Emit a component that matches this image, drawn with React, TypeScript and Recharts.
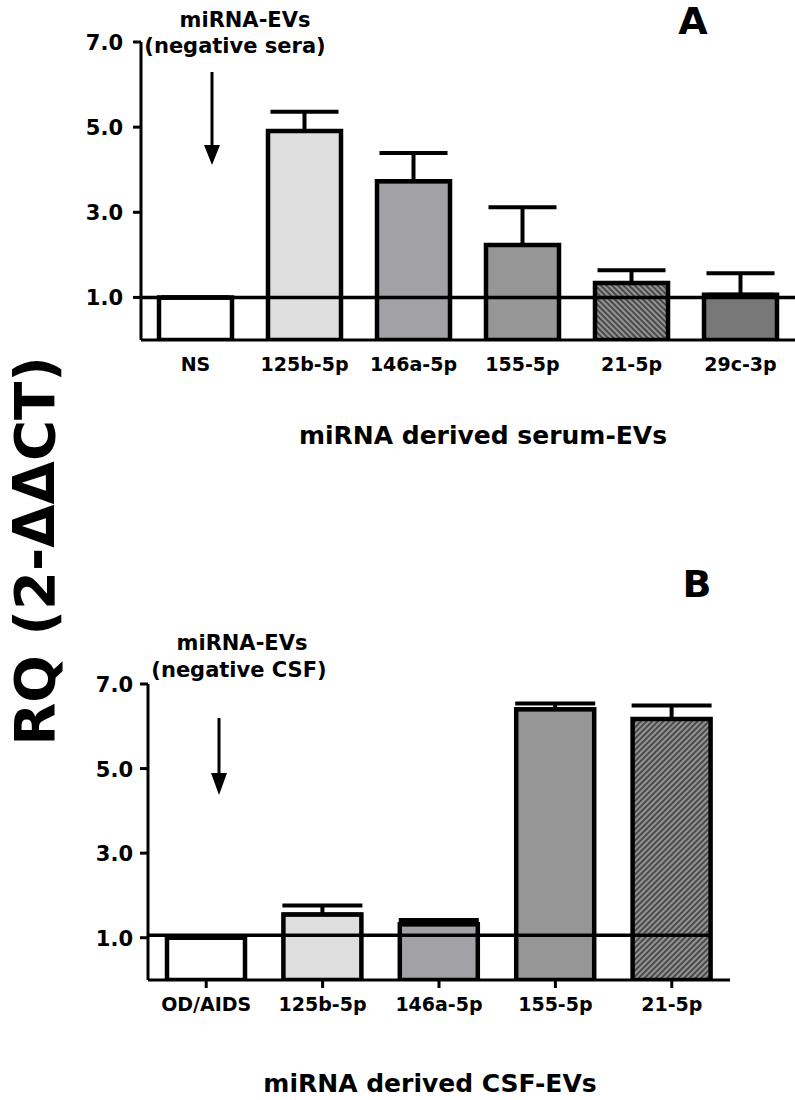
import React from 'react';
import { BarChart, Bar, XAxis, YAxis, ReferenceLine, ErrorBar, Cell } from 'recharts';

// ---- Data ----
const catsA = ['NS', '125b-5p', '146a-5p', '155-5p', '21-5p', '29c-3p'];
const meansA = [1.0, 4.91, 3.73, 2.23, 1.34, 1.06];
const errsA = [0, 0.45, 0.66, 0.89, 0.3, 0.51];

const catsB = ['OD/AIDS', '125b-5p', '146a-5p', '155-5p', '21-5p'];
const meansB = [1.0, 1.55, 1.32, 6.4, 6.17];
const errsB = [0, 0.21, 0.1, 0.14, 0.32];

const yTicks = [1, 3, 5, 7];
const refA = 1.0;
const refB = 1.06;

// ---- Styles ----
const fillsA = ['#ffffff', '#dedede', '#a2a2a6', '#969696', 'url(#hatchA)', '#787878'];
const fillsB = ['#ffffff', '#dedede', '#a2a2a6', '#969696', 'url(#hatchB)'];
const FONT = 'DejaVu Sans';

const dataA = catsA.map((c, i) => ({ cat: c, value: meansA[i], err: [0, errsA[i]] }));
const dataB = catsB.map((c, i) => ({ cat: c, value: meansB[i], err: [0, errsB[i]] }));

const YTick = (props: any) => {
  const { x, y, payload } = props;
  return (
    <text x={x} y={y + 8} textAnchor="end" fontFamily={FONT} fontWeight="bold" fontSize={21} fill="#000">
      {Number(payload.value).toFixed(1)}
    </text>
  );
};

const XTick = (props: any) => {
  const { x, y, payload } = props;
  return (
    <text x={x} y={y + 23} textAnchor="middle" fontFamily={FONT} fontWeight="bold" fontSize={19} fill="#000">
      {payload.value}
    </text>
  );
};

const ShortRef = (props: any) => {
  const { x1, y1, x2, y2 } = props;
  return <line x1={x1} y1={y1} x2={x2 - 18} y2={y2} stroke="#000" strokeWidth={3.5} />;
};

const textStyle = { fontFamily: FONT, fontWeight: 'bold' as const, fill: '#000' };

export default function App() {
  return (
    <div style={{ position: 'absolute', left: 0, top: 0, width: 795, height: 1100, background: '#fff', overflow: 'hidden' }}>
      <svg width={0} height={0} style={{ position: 'absolute' }}>
        <defs>
          <pattern id="hatchA" width="4" height="4" patternUnits="userSpaceOnUse" patternTransform="rotate(-45)">
            <rect width="4" height="4" fill="#4a4a4a" />
            <line x1="1" y1="0" x2="1" y2="4" stroke="#a6a6a6" strokeWidth="1.6" />
          </pattern>
          <pattern id="hatchB" width="4" height="4" patternUnits="userSpaceOnUse" patternTransform="rotate(45)">
            <rect width="4" height="4" fill="#4a4a4a" />
            <line x1="1" y1="0" x2="1" y2="4" stroke="#a6a6a6" strokeWidth="1.6" />
          </pattern>
        </defs>
      </svg>

      <div style={{ position: 'absolute', left: 0, top: 0 }}>
        <BarChart width={795} height={460} data={dataA} margin={{ top: 42, right: 0, left: 0, bottom: 0 }} barSize={73}>
          <XAxis
            dataKey="cat"
            height={120}
            axisLine={{ stroke: '#000', strokeWidth: 3 }}
            tickLine={false}
            tickSize={8}
            tickMargin={0}
            tick={<XTick />}
            interval={0}
          />
          <YAxis
            width={141}
            domain={[0, 7]}
            ticks={yTicks}
            type="number"
            axisLine={{ stroke: '#000', strokeWidth: 3 }}
            tickLine={{ stroke: '#000', strokeWidth: 3 }}
            tickSize={8}
            tickMargin={10}
            tick={<YTick />}
            allowDataOverflow
          />
          <Bar dataKey="value" stroke="#000" strokeWidth={4.5} isAnimationActive={false}>
            {dataA.map((d, i) => (
              <Cell key={d.cat} fill={fillsA[i]} />
            ))}
            <ErrorBar dataKey="err" direction="y" width={34} stroke="#000" strokeWidth={4} isAnimationActive={false} />
          </Bar>
          <ReferenceLine y={refA} stroke="#000" strokeWidth={3.5} />
        </BarChart>
      </div>

      <div style={{ position: 'absolute', left: 0, top: 600 }}>
        <BarChart width={795} height={500} data={dataB} margin={{ top: 84, right: 65, left: 0, bottom: 0 }} barSize={78}>
          <XAxis
            dataKey="cat"
            height={120}
            axisLine={{ stroke: '#000', strokeWidth: 3 }}
            tickLine={{ stroke: '#000', strokeWidth: 3 }}
            tickSize={8}
            tickMargin={0}
            tick={<XTick />}
            interval={0}
          />
          <YAxis
            width={148}
            domain={[0, 7]}
            ticks={yTicks}
            type="number"
            axisLine={{ stroke: '#000', strokeWidth: 3 }}
            tickLine={{ stroke: '#000', strokeWidth: 3 }}
            tickSize={8}
            tickMargin={7}
            tick={<YTick />}
            allowDataOverflow
          />
          <Bar dataKey="value" stroke="#000" strokeWidth={4.5} isAnimationActive={false}>
            {dataB.map((d, i) => (
              <Cell key={d.cat} fill={fillsB[i]} />
            ))}
            <ErrorBar dataKey="err" direction="y" width={40} stroke="#000" strokeWidth={4} isAnimationActive={false} />
          </Bar>
          <ReferenceLine y={refB} shape={<ShortRef />} />
        </BarChart>
      </div>

      <svg width={795} height={1100} style={{ position: 'absolute', left: 0, top: 0, pointerEvents: 'none' }}>
        {/* Panel A annotations */}
        <text x={245} y={27} textAnchor="middle" fontSize={21} {...textStyle}>miRNA-EVs</text>
        <text x={235} y={53} textAnchor="middle" fontSize={21} {...textStyle}>(negative sera)</text>
        <line x1={212} y1={72} x2={212} y2={148} stroke="#000" strokeWidth={3} />
        <polygon points="204,145 220,145 212,165" fill="#000" />
        <text x={693} y={34} textAnchor="middle" fontSize={38} {...textStyle}>A</text>
        <text x={483} y={444} textAnchor="middle" fontSize={25} {...textStyle}>miRNA derived serum-EVs</text>

        {/* Panel B annotations */}
        <text x={242} y={650} textAnchor="middle" fontSize={21} {...textStyle}>miRNA-EVs</text>
        <text x={239} y={677} textAnchor="middle" fontSize={21} {...textStyle}>(negative CSF)</text>
        <line x1={219} y1={718} x2={219} y2={776} stroke="#000" strokeWidth={3} />
        <polygon points="211,773 227,773 219,795" fill="#000" />
        <text x={697} y={597} textAnchor="middle" fontSize={38} {...textStyle}>B</text>
        <text x={430} y={1092} textAnchor="middle" fontSize={25} {...textStyle}>miRNA derived CSF-EVs</text>

        {/* Shared y-axis title */}
        <text transform="translate(54,551) rotate(-90)" textAnchor="middle" fontSize={56} {...textStyle}>RQ (2-ΔΔCT)</text>
      </svg>
    </div>
  );
}
